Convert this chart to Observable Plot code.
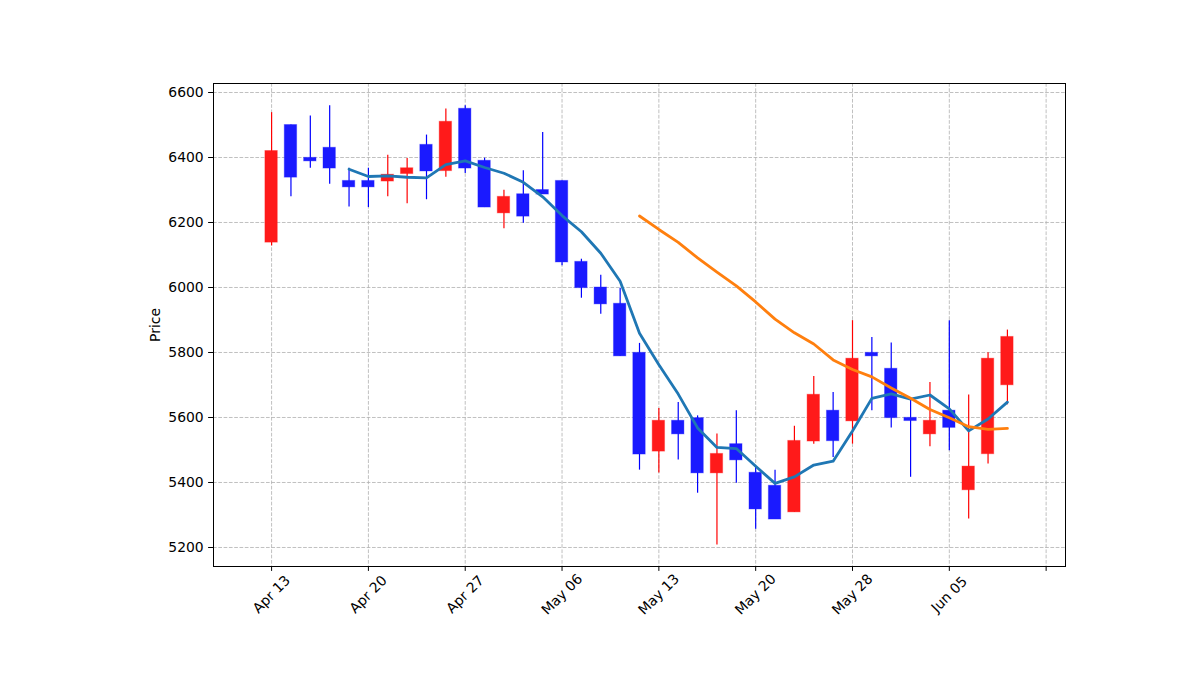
<!DOCTYPE html>
<html>
<head>
<meta charset="utf-8">
<script src="https://cdn.jsdelivr.net/npm/d3@7"></script>
<script src="https://cdn.jsdelivr.net/npm/@observablehq/plot@0.6"></script>
<style>
  html, body { margin: 0; padding: 0; background: #fff; }
  #chart { width: 1182px; height: 690px; }
</style>
</head>
<body>
<div id="chart"></div>
<script>
// OHLC values (trading-day index 0..38)
const opens  = [6138,6500,6399,6430,6328,6328,6326,6349,6439,6358,6550,6390,6228,6287,6300,6328,6079,6000,5950,5799,5495,5590,5598,5428,5518,5430,5390,5308,5526,5621,5588,5799,5750,5599,5548,5621,5376,5487,5699];
const highs  = [6538,6500,6528,6559,6367,6367,6407,6397,6469,6549,6559,6398,6299,6359,6477,6328,6087,6038,5998,5828,5628,5646,5605,5549,5621,5446,5438,5573,5726,5677,5898,5846,5829,5657,5708,5898,5669,5799,5869];
const lows   = [6128,6279,6367,6318,6248,6246,6279,6258,6270,6339,6351,6246,6181,6198,6286,6067,5967,5918,5788,5438,5429,5469,5367,5208,5398,5256,5286,5308,5518,5477,5518,5621,5568,5416,5510,5498,5288,5457,5639];
const closes = [6420,6338,6388,6366,6308,6308,6347,6367,6357,6510,6366,6246,6279,6218,6286,6077,5998,5948,5788,5486,5590,5548,5428,5488,5468,5317,5286,5528,5670,5527,5781,5788,5598,5589,5590,5568,5449,5781,5848];

// x tick positions (trading-day index) and their labels
const xTickIdx    = [0, 5, 10, 15, 20, 25, 30, 35, 40];
const xTickLabels = ["Apr 13", "Apr 20", "Apr 27", "May 06", "May 13", "May 20", "May 28", "Jun 05", ""];
const yTicks = [5200, 5400, 5600, 5800, 6000, 6200, 6400, 6600];

const data = closes.map((c, i) => ({i, open: opens[i], high: highs[i], low: lows[i], close: c}));
const xticks = xTickIdx.map((x, k) => ({x, label: xTickLabels[k]}));

const UP = "#ff1a1a", DOWN = "#1a1aff";
const col = d => d.close >= d.open ? UP : DOWN;
const wickCol = d => d.close >= d.open ? "#ff0000" : "#0000ff";
const gridStyle = {stroke: "#b0b0b0", strokeWidth: 0.8, strokeDasharray: "3.7,1.6"};

const chart = Plot.plot({
  width: 1182,
  height: 690,
  marginLeft: 213,
  marginRight: 117,
  marginTop: 83,
  marginBottom: 124,
  style: {fontFamily: "DejaVu Sans", fontSize: "13.9px", color: "black", background: "white"},
  x: {type: "linear", domain: [-3, 41]},
  y: {type: "linear", domain: [5141.5, 6627.7]},
  marks: [
    Plot.ruleX(xTickIdx, {x: d => d, ...gridStyle}),
    Plot.ruleY(yTicks, {y: d => d, ...gridStyle}),
    // wicks
    Plot.ruleX(data, {x: "i", y1: "low", y2: "high", stroke: wickCol, strokeWidth: 1.2}),
    // bodies
    Plot.rect(data, {
      x1: d => d.i - 0.32, x2: d => d.i + 0.32,
      y1: "open", y2: "close",
      fill: col, stroke: col, strokeOpacity: 0.35, strokeWidth: 1
    }),
    // moving averages of the closes
    Plot.lineY(data, Plot.windowY({k: 5, anchor: "end", strict: true, reduce: "mean"},
      {x: "i", y: "close", stroke: "#1f77b4", strokeWidth: 2.8})),
    Plot.lineY(data, Plot.windowY({k: 20, anchor: "end", strict: true, reduce: "mean"},
      {x: "i", y: "close", stroke: "#ff7f0e", strokeWidth: 2.8})),
    Plot.frame({stroke: "black", strokeWidth: 1}),
    Plot.axisY({ticks: yTicks, tickSize: 4.9, tickPadding: 4.9, tickFormat: d => String(d), label: null, fontSize: 13.9}),
    Plot.axisX({ticks: xTickIdx, tickSize: 4.9, tickFormat: () => "", label: null}),
    Plot.text(xticks, {
      x: "x", text: "label", frameAnchor: "bottom", dy: 28,
      rotate: -45, textAnchor: "middle", lineAnchor: "middle", fontSize: 13.9, fill: "black"
    }),
    Plot.text(["Price"], {
      text: d => d, frameAnchor: "left", dx: -57.5, rotate: -90,
      textAnchor: "middle", lineAnchor: "middle", fontSize: 13.9, fill: "black"
    })
  ]
});
document.getElementById("chart").appendChild(chart);
</script>
</body>
</html>
